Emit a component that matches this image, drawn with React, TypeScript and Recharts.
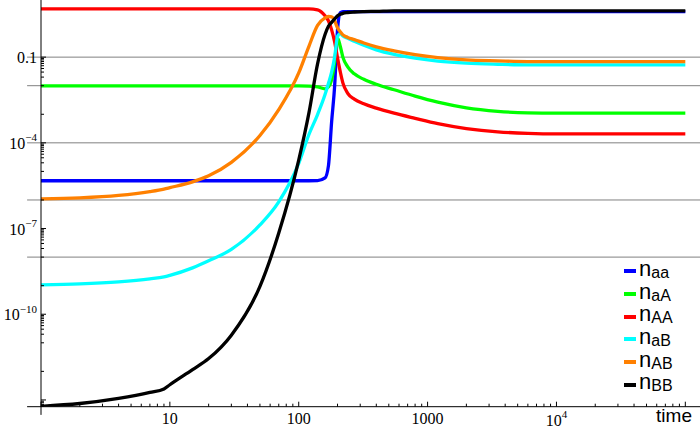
import React from 'react'
import { LineChart, Line, XAxis, YAxis, ReferenceLine, Legend } from 'recharts'

// time grid (log spaced, dense around the switch near t ~ 200)
const TIMES = [1, 2, 4, 7, 9, 10, 15, 20, 30, 50, 70, 100, 120, 140, 160, 170, 180, 190, 200, 210, 220, 240, 270, 320, 400, 550, 800, 1200, 2000, 3500, 6000, 10000, 20000, 50000, 100000]

const N_aa = [4.7e-6, 4.7e-6, 4.7e-6, 4.7e-6, 4.7e-6, 4.7e-6, 4.7e-6, 4.7e-6, 4.7e-6, 4.7e-6, 4.7e-6, 4.7e-6, 4.7e-6, 4.75e-6, 5.9e-6, 1.56e-5, 5.4e-4, 9.9e-3, 0.9, 3.56, 3.9, 3.9, 3.9, 3.9, 3.9, 3.9, 3.9, 3.9, 3.9, 3.9, 3.9, 3.9, 3.9, 3.9, 3.9]
const N_aA = [0.0098, 0.0098, 0.0098, 0.0098, 0.0098, 0.0098, 0.0098, 0.0098, 0.0098, 0.0098, 0.0098, 0.0098, 0.0097, 0.0091, 0.0078, 0.0091, 0.016, 0.068, 0.47, 0.24, 0.1, 0.046, 0.026, 0.0167, 0.0112, 0.0072, 0.0043, 0.00265, 0.00168, 0.00127, 0.00112, 0.00109, 0.00109, 0.00109, 0.00109]
const N_AA = [4.9, 4.9, 4.9, 4.9, 4.9, 4.9, 4.9, 4.9, 4.9, 4.9, 4.9, 4.9, 4.9, 4.53, 2.79, 1.87, 0.9, 0.34, 0.094, 0.031, 0.0126, 5.4e-3, 3.38e-3, 2.32e-3, 1.64e-3, 1.09e-3, 7.2e-4, 4.7e-4, 3.16e-4, 2.42e-4, 2.15e-4, 2.06e-4, 2.06e-4, 2.06e-4, 2.06e-4]
const N_aB = [1.06e-9, 1.15e-9, 1.36e-9, 1.73e-9, 2.03e-9, 2.29e-9, 4.2e-9, 7.4e-9, 1.86e-8, 1.34e-7, 8.6e-7, 1.9e-5, 1.96e-4, 9.8e-4, 4.9e-3, 0.012, 0.03, 0.1, 0.53, 0.67, 0.557, 0.455, 0.357, 0.259, 0.18, 0.125, 0.0923, 0.073, 0.0616, 0.0564, 0.0537, 0.0537, 0.0537, 0.0537, 0.0537]
const N_AB = [1.09e-6, 1.19e-6, 1.45e-6, 1.97e-6, 2.41e-6, 2.7e-6, 4.3e-6, 7.0e-6, 2.07e-5, 1.8e-4, 1.45e-3, 0.028, 0.24, 1.29, 2.38, 2.64, 2.58, 1.87, 1.06, 0.77, 0.6, 0.49, 0.41, 0.312, 0.23, 0.166, 0.122, 0.096, 0.08, 0.074, 0.07, 0.07, 0.07, 0.07, 0.07]
const N_BB = [6e-14, 7.5e-14, 1.13e-13, 1.83e-13, 2.43e-13, 3.4e-13, 1.15e-12, 2.8e-12, 1.85e-11, 9.4e-10, 7.0e-8, 2.5e-5, 1.12e-3, 0.058, 0.62, 1.2, 1.65, 2.19, 2.79, 3.15, 3.42, 3.65, 3.8, 3.92, 4.0, 4.18, 4.18, 4.18, 4.18, 4.18, 4.18, 4.18, 4.18, 4.18, 4.18]

const SERIES = [
  { key: 'naa', sub: 'aa', color: '#0000ff', values: N_aa },
  { key: 'naA', sub: 'aA', color: '#00ff00', values: N_aA },
  { key: 'nAA', sub: 'AA', color: '#ff0000', values: N_AA },
  { key: 'naB', sub: 'aB', color: '#00ffff', values: N_aB },
  { key: 'nAB', sub: 'AB', color: '#ff8000', values: N_AB },
  { key: 'nBB', sub: 'BB', color: '#000000', values: N_BB },
]

const GRID_Y = [1e-1, 1e-2, 1e-4, 1e-6, 1e-8]

const X_DOMAIN = [1, 1.3e5]
const Y_DOMAIN = [5.8e-14, 10]
// the axes overshoot the plot range a little, as in the original
const X_AXIS_START = 0.78
const Y_AXIS_START = 3e-14
const X_MAJOR_EXP = [0, 1, 2, 3, 4, 5]
const X_LABELED_EXP = [1, 2, 3, 4]
const Y_MAJOR_EXP = [-13, -10, -7, -4, -1]
const Y_LABELED_EXP = [-10, -7, -4, -1]

const rows = TIMES.map((t, i) => {
  const r: Record<string, number> = { t }
  SERIES.forEach(s => { r[s.key] = s.values[i] })
  return r
})

const inDomain = (v: number, d: number[]) => v >= d[0] * 0.9999 && v <= d[1] * 1.0001

const xTicks = X_MAJOR_EXP.flatMap(k => [Math.pow(10, k), ...[2, 3, 4, 5, 6, 7, 8, 9].map(m => m * Math.pow(10, k))])
  .filter(v => inDomain(v, X_DOMAIN))
const yTicks = Y_MAJOR_EXP.flatMap(k => [Math.pow(10, k), ...[2, 3, 4, 5, 6, 7, 8, 9].map(m => m * Math.pow(10, k - 1)), Math.pow(10, k - 1), Math.pow(10, k - 2)])
  .filter(v => inDomain(v, Y_DOMAIN))
  .sort((a, b) => a - b)

const SERIF = '"Liberation Serif", "Times New Roman", serif'
const SANS = '"Liberation Sans", Arial, sans-serif'

const majorExp = (v: number, majors: number[]) => {
  const e = Math.log10(v)
  const k = Math.round(e)
  return Math.abs(e - k) < 1e-6 && majors.includes(k) ? k : null
}

function YTick(props: any) {
  const { x, y, payload } = props
  const k = majorExp(payload.value, Y_MAJOR_EXP)
  const ax = x + 4
  let label = null
  if (k !== null && Y_LABELED_EXP.includes(k)) {
    label = k === -1
      ? <text x={x} y={y + 6} textAnchor="end" fontFamily={SERIF} fontSize={16} fill="#000">0.1</text>
      : <text x={x} y={y + 6} textAnchor="end" fontFamily={SERIF} fontSize={16} fill="#000">10<tspan dy={-7.5} fontSize={11}>{'\u2212' + Math.abs(k)}</tspan></text>
  }
  return (
    <g>
      <line x1={ax} y1={y} x2={ax + (k !== null ? 5 : 3)} y2={y} stroke="#000" strokeWidth={1} />
      {label}
    </g>
  )
}

function XTick(props: any) {
  const { x, y, payload } = props
  const k = majorExp(payload.value, X_MAJOR_EXP)
  let label = null
  if (k !== null && X_LABELED_EXP.includes(k)) {
    label = k < 4
      ? <text x={x} y={y + 17.5} textAnchor="middle" fontFamily={SERIF} fontSize={16} fill="#000">{String(Math.pow(10, k))}</text>
      : <text x={x} y={y + 19} textAnchor="middle" fontFamily={SERIF} fontSize={16} fill="#000">10<tspan dy={-8} fontSize={11}>{k}</tspan></text>
  }
  return (
    <g>
      <line x1={x} y1={y} x2={x} y2={y - (k !== null ? 5 : 3)} stroke="#000" strokeWidth={1} />
      {label}
    </g>
  )
}

function TimeLabel(props: any) {
  const { viewBox } = props
  return (
    <text x={viewBox.x + viewBox.width - 8} y={viewBox.y + 15.5} textAnchor="end" fontFamily={SANS} fontSize={19} fill="#000">time</text>
  )
}

function LegendBox(props: any) {
  const payload = [...(props.payload || [])].sort(
    (a: any, b: any) => SERIES.findIndex(s => s.sub === a.value) - SERIES.findIndex(s => s.sub === b.value))
  return (
    <div style={{ fontFamily: SANS, fontSize: 22, color: '#000' }}>
      {payload.map((p: any) => (
        <div key={p.value} style={{ height: 22.7, lineHeight: '22.7px', whiteSpace: 'nowrap' }}>
          <span style={{ display: 'inline-block', width: 12, height: 4, background: p.color, verticalAlign: 'middle', marginRight: 3, position: 'relative', top: 1 }} />
          <span>n</span>
          <span style={{ fontSize: 16, position: 'relative', top: 2 }}>{p.value}</span>
        </div>
      ))}
    </div>
  )
}

export default function App() {
  return (
    <div style={{ position: 'absolute', left: 0, top: 0, background: '#fff' }}>
      <LineChart width={700} height={433} data={rows} margin={{ top: 0, right: 0, bottom: 0, left: 0 }}>
        <XAxis dataKey="t" type="number" scale="log" domain={X_DOMAIN} allowDataOverflow ticks={xTicks} interval={0}
          height={26.3} tickSize={0} tickMargin={0} tick={<XTick />} axisLine={{ stroke: '#000' }} tickLine={false}
          label={<TimeLabel />} />
        <YAxis type="number" scale="log" domain={Y_DOMAIN} allowDataOverflow ticks={yTicks} interval={0}
          width={41} tickSize={0} tickMargin={4} tick={<YTick />} axisLine={{ stroke: '#000' }} tickLine={false} />
        {GRID_Y.map(v => (
          <ReferenceLine key={v} segment={[{ x: X_AXIS_START, y: v }, { x: X_DOMAIN[1], y: v }]} ifOverflow="visible"
            stroke="#808080" strokeWidth={1} zIndex={-1} />
        ))}
        <ReferenceLine segment={[{ x: X_AXIS_START, y: Y_DOMAIN[0] }, { x: X_DOMAIN[0], y: Y_DOMAIN[0] }]} ifOverflow="visible" stroke="#000" strokeWidth={1} />
        <ReferenceLine segment={[{ x: X_DOMAIN[0], y: Y_AXIS_START }, { x: X_DOMAIN[0], y: Y_DOMAIN[0] }]} ifOverflow="visible" stroke="#000" strokeWidth={1} />
        {SERIES.map(s => (
          <Line key={s.key} dataKey={s.key} name={s.sub} type="monotone" stroke={s.color} strokeWidth={3.3}
            dot={false} activeDot={false} isAnimationActive={false} />
        ))}
        <Legend layout="vertical" align="center" verticalAlign="middle" content={<LegendBox />}
          wrapperStyle={{ left: 624, top: 258, width: 80, height: 140 }} />
      </LineChart>
    </div>
  )
}
